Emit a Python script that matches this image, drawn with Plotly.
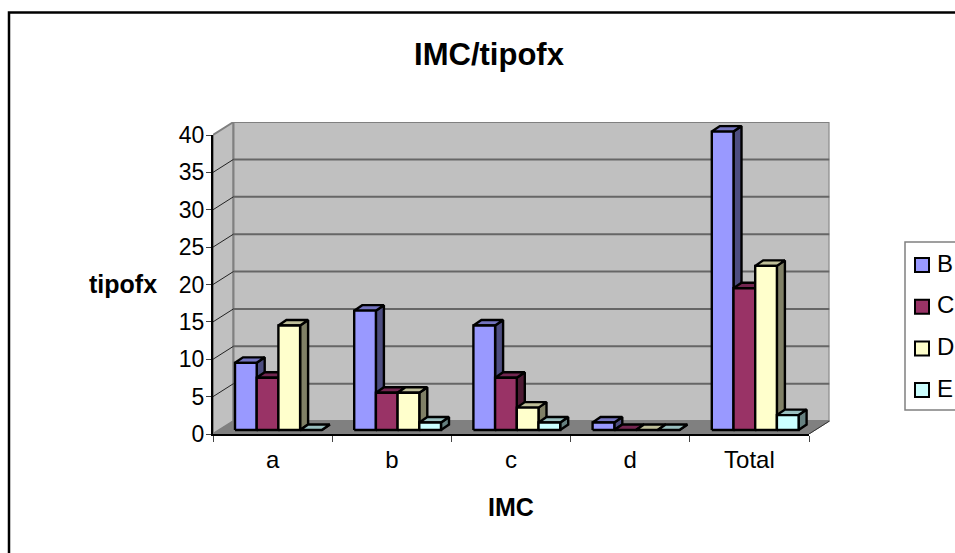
import plotly.graph_objects as go

categories = ["a", "b", "c", "d", "Total"]
series_names = ["B", "C", "D", "E"]
values_b = [9, 16, 14, 1, 40]
values_c = [7, 5, 7, 0, 19]
values_d = [14, 5, 3, 0, 22]
values_e = [0, 1, 1, 0, 2]
front_colors = ["#9999FF", "#993366", "#FFFFCC", "#CCFFFF"]
side_colors = ["#4D4D80", "#4D1A33", "#808066", "#668080"]
top_colors = ["#7373BF", "#732650", "#BFBF99", "#99BFBF"]
y_ticks = [0, 5, 10, 15, 20, 25, 30, 35, 40]

W, H = 955, 553
X0, X1, Y0, Y1 = 213, 809, 434, 135
YMAX = 40
PX = (X1 - X0) / len(categories)
PY = (Y0 - Y1) / YMAX
FONT = "Liberation Sans, Arial, sans-serif"


def dx(p):
    return p / PX


def dy(p):
    return p / PY


def px(p):
    return p / W


def py(p):
    return 1 - p / H


WALL_PX, WALL_PY = 20.5, 13
WALL_X, WALL_Y = dx(WALL_PX), dy(WALL_PY)
N = len(categories)
fig = go.Figure()


def poly(xs, ys, fill, line="#000000", width=2.4):
    fig.add_trace(go.Scatter(
        x=xs, y=ys, mode="lines", fill="toself", fillcolor=fill,
        line=dict(color=line, width=width), hoverinfo="skip",
        showlegend=False, cliponaxis=False))


def path(xs, ys, color, width):
    fig.add_trace(go.Scatter(
        x=xs, y=ys, mode="lines", line=dict(color=color, width=width),
        hoverinfo="skip", showlegend=False, cliponaxis=False))


# walls and floor
poly([0, WALL_X, WALL_X, 0, 0], [0, WALL_Y, YMAX + WALL_Y, YMAX, 0], "#C0C0C0", "#808080", 2)
poly([WALL_X, N + WALL_X, N + WALL_X, WALL_X, WALL_X],
     [WALL_Y, WALL_Y, YMAX + WALL_Y, YMAX + WALL_Y, WALL_Y], "#C0C0C0", "#808080", 2)
poly([0, N, N + WALL_X, WALL_X, 0], [0, 0, WALL_Y, WALL_Y, 0], "#808080", "#808080", 1)
for t in y_ticks[1:-1]:
    path([WALL_X, N + WALL_X], [t + WALL_Y, t + WALL_Y], "#666666", 2)
    path([0, WALL_X], [t, t + WALL_Y], "#222222", 1)
path([N, N + WALL_X], [0, WALL_Y], "#333333", 1)

# bars
BAR_W, BAR_START, BASE = dx(21.7), dx(22), dy(4)
DEPTH_X, DEPTH_Y = dx(8), dy(5.5)
all_values = [values_b, values_c, values_d, values_e]
for s, vals in enumerate(all_values):
    sx, sy, tx, ty, fx, fy = [], [], [], [], [], []
    for c, v in enumerate(vals):
        l = c + BAR_START + s * BAR_W
        r = l + BAR_W
        b = BASE
        t = BASE + v * 0.998
        sx += [r, r + DEPTH_X, r + DEPTH_X, r, r, None]
        sy += [b, b + DEPTH_Y, t + DEPTH_Y, t, b, None]
        tx += [l, r, r + DEPTH_X, l + DEPTH_X, l, None]
        ty += [t, t, t + DEPTH_Y, t + DEPTH_Y, t, None]
        if v > 0:
            fx += [l, r, r, l, l, None]
            fy += [b, b, t, t, b, None]
    poly(sx, sy, side_colors[s])
    poly(tx, ty, top_colors[s])
    poly(fx, fy, front_colors[s])

# invisible carrier so the visible axes are drawn above the marks
fig.add_trace(go.Scatter(x=[0, N], y=[0, YMAX], xaxis="x2", yaxis="y2", mode="lines",
                         line=dict(width=0), opacity=0, hoverinfo="skip", showlegend=False))

shapes = [dict(type="rect", xref="paper", yref="paper", x0=px(9), x1=px(975),
               y0=py(12.5), y1=py(575), line=dict(color="#000000", width=2.5), layer="below"),
          dict(type="rect", xref="paper", yref="paper", x0=px(905), x1=px(975),
               y0=py(242), y1=py(410), line=dict(color="#808080", width=1.5),
               fillcolor="#FFFFFF")]
annotations = [dict(text="<b>tipofx</b>", xref="paper", yref="paper", x=px(123), y=py(284),
                    xanchor="center", yanchor="middle",
                    showarrow=False, font=dict(family=FONT, size=25, color="#000000")),
               dict(text="<b>IMC</b>", xref="paper", yref="paper", x=px(511), y=py(507),
                    xanchor="center", yanchor="middle",
                    showarrow=False, font=dict(family=FONT, size=25, color="#000000"))]
for i, name in enumerate(series_names):
    cy = 265 + i * 41.7
    shapes.append(dict(type="rect", xref="paper", yref="paper", x0=px(915), x1=px(929),
                       y0=py(cy - 7), y1=py(cy + 7), fillcolor=front_colors[i],
                       line=dict(color="#000000", width=2)))
    annotations.append(dict(text=name, xref="paper", yref="paper", x=px(935), y=py(cy - 2),
                            xanchor="left", yanchor="middle", showarrow=False,
                            font=dict(family=FONT, size=24, color="#000000")))

hidden = dict(visible=False, showgrid=False, zeroline=False, automargin=False, fixedrange=True)
fig.update_layout(
    width=W, height=H, margin=dict(l=0, r=0, t=0, b=0), autosize=False,
    paper_bgcolor="#FFFFFF", plot_bgcolor="rgba(0,0,0,0)", showlegend=False,
    font=dict(family=FONT, color="#000000"),
    title=dict(text="<b>IMC/tipofx</b>", x=px(489), y=py(54), xanchor="center", yanchor="middle",
               font=dict(family=FONT, size=31, color="#000000"), automargin=False),
    # marks: same scale as the visible axes, extended to hold the wall depth
    xaxis=dict(domain=[px(X0), px(X1 + WALL_PX)], range=[0, N + WALL_X], anchor="y", **hidden),
    yaxis=dict(domain=[py(Y0), py(Y1 - WALL_PY)], range=[0, YMAX + WALL_Y], anchor="x", **hidden),
    xaxis2=dict(domain=[px(X0), px(X1)], range=[0, N], anchor="y2", tickmode="array",
                tickvals=[i + 0.5 for i in range(N)], ticktext=categories, ticks="",
                showgrid=False, zeroline=False, showline=True, linecolor="#000000", linewidth=2,
                automargin=False, tickfont=dict(family=FONT, size=24), ticklabelstandoff=3,
                minor=dict(tickmode="array", tickvals=list(range(N + 1)), ticks="outside",
                           ticklen=6, tickcolor="#444444", tickwidth=1, showgrid=False)),
    yaxis2=dict(domain=[py(Y0), py(Y1)], range=[0, YMAX], anchor="x2", tickmode="array",
                tickvals=y_ticks, ticks="outside", ticklen=5, tickcolor="#444444", tickwidth=1,
                showgrid=False, zeroline=False, showline=True, linecolor="#000000", linewidth=2,
                automargin=False, tickfont=dict(family=FONT, size=23), ticklabelstandoff=-3),
    shapes=shapes, annotations=annotations,
)

fig.write_html("out.html", config=dict(displayModeBar=False),
               post_script="document.body.style.margin='0';document.body.style.overflow='hidden';")
